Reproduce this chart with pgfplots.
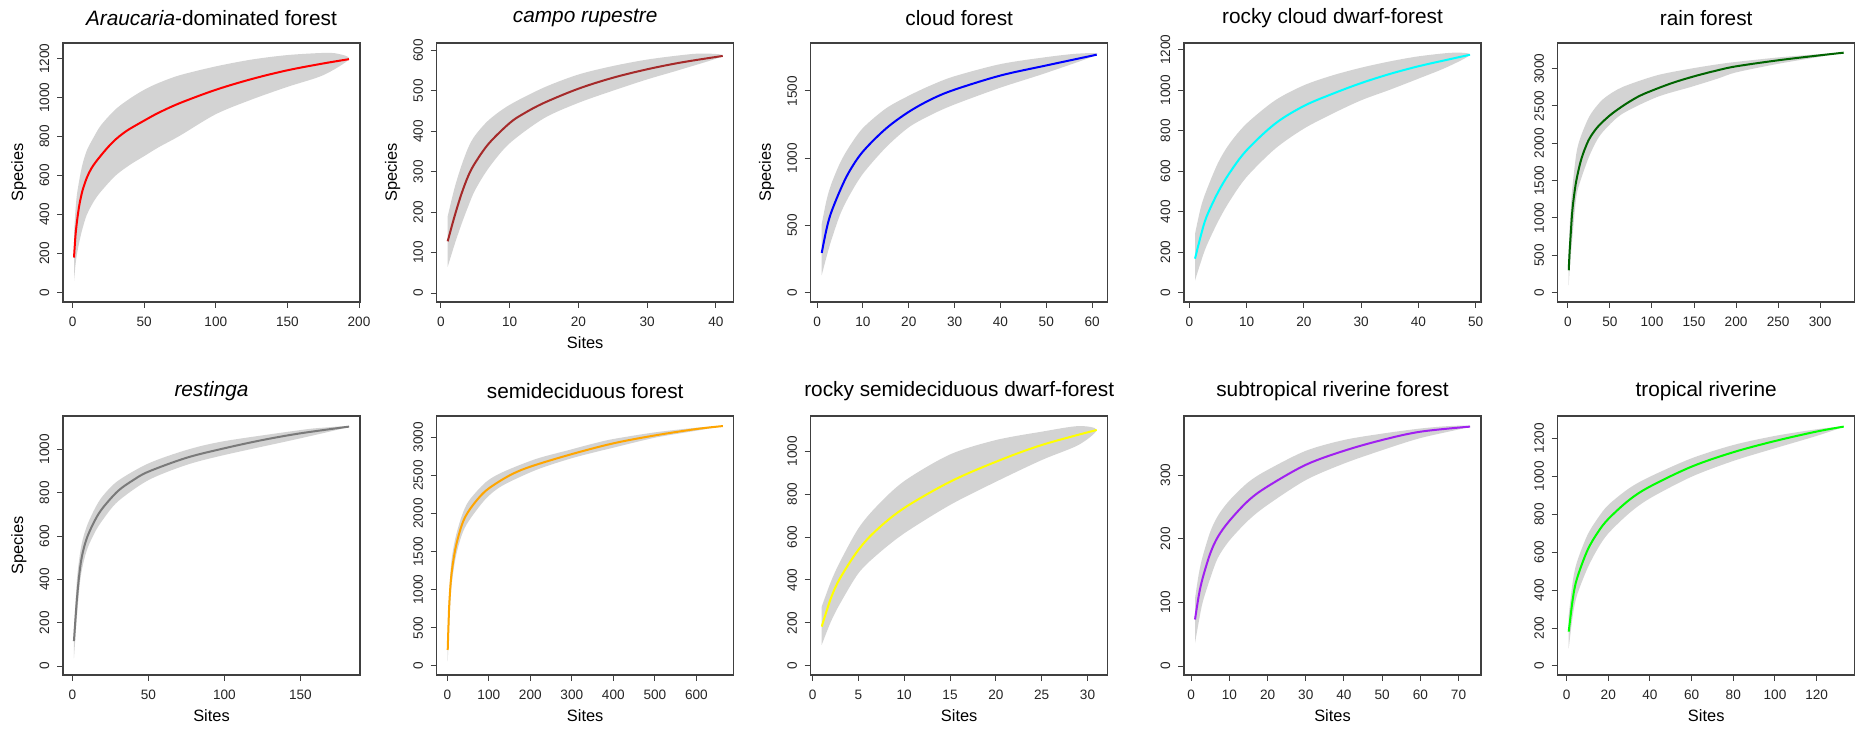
\documentclass[border=0pt]{standalone}
\usepackage{fontspec}
\setmainfont{Liberation Sans}
\usepackage{pgfplots}
\pgfplotsset{compat=1.18}
\definecolor{ciGray}{HTML}{D3D3D3}
\definecolor{rbrown}{HTML}{A52A2A}
\definecolor{rdarkgreen}{HTML}{006400}
\definecolor{rorange}{HTML}{FFA500}
\definecolor{rpurple}{HTML}{A020F0}
\definecolor{rgreen}{HTML}{00FF00}
\definecolor{rcyan}{HTML}{00FFFF}
\definecolor{ryellow}{HTML}{FFFF00}
\definecolor{rgrey}{HTML}{7A7A7A}
\pgfplotsset{
  rplot/.style={
    scale only axis, width=148.5pt, height=129.5pt, anchor=south west,
    axis line style={black!75, line width=0.6pt},
    tick align=outside, xtick pos=bottom, ytick pos=left,
    major tick length=3pt, tick style={black!75, line width=0.5pt},
    ticklabel style={font=\fontsize{6.8}{8}\selectfont, text=black!85},
    yticklabel style={rotate=90, anchor=south},
    xticklabel style={anchor=north},
    xticklabel shift=0.9pt, yticklabel shift=0.3pt,
    /pgf/number format/assume math mode=true,
    /pgf/number format/1000 sep={},
    scaled ticks=false,
    title style={at={([yshift=12.5pt]axis description cs:0.5,1)}, anchor=center, yshift=-6pt, font=\fontsize{10.4}{12}\selectfont},
    xlabel style={at={([yshift=-20.5pt]axis description cs:0.5,0)}, anchor=center, font=\fontsize{8.2}{10}\selectfont},
    ylabel style={at={([xshift=-22pt]axis description cs:0,0.5)}, anchor=center, font=\fontsize{8.2}{10}\selectfont},
  },
  band/.style={draw=none, fill=ciGray, smooth, tension=0.5, forget plot},
  curve/.style={line width=1pt, smooth, tension=0.55, forget plot},
}
\begin{document}
\begin{tikzpicture}
\path[use as bounding box] (0,0) rectangle (928pt,365.5pt);
% ---------- Row 1 ----------
\begin{axis}[rplot, at={(31.5pt,214.5pt)},
  title={\textit{Araucaria}-dominated forest}, ylabel={Species},
  xmin=-6.68, xmax=200.68, ymin=-48, ymax=1280,
  xtick={0,50,100,150,200}, ytick={0,200,400,600,800,1000,1200}]
\addplot[band] coordinates {(1,300)(2,420)(3,500)(5,590)(7,660)(10,730)(15,800)(20,860)(30,940)(40,995)(50,1040)(60,1075)(75,1115)(100,1160)(125,1195)(150,1218)(175,1229)(185,1225)(193,1197)(175,1115)(150,1055)(125,990)(100,915)(75,805)(60,745)(50,700)(40,655)(30,600)(20,520)(15,470)(10,400)(7,330)(5,270)(3,195)(2,140)(1,60)};
\addplot[curve, red] coordinates {(1,180)(2,290)(3,360)(4,415)(5,460)(7,525)(10,590)(13,635)(16,668)(20,705)(25,748)(30,785)(35,815)(40,840)(50,882)(60,922)(75,972)(100,1040)(125,1095)(150,1140)(175,1175)(193,1197)};
\end{axis}
\begin{axis}[rplot, at={(218.35pt,214.5pt)},
  title={\textit{campo rupestre}}, ylabel={Species}, xlabel={Sites},
  xmin=-0.6, xmax=42.6, ymin=-22, ymax=618,
  xtick={0,10,20,30,40}, ytick={0,100,200,300,400,500,600}]
\addplot[band] coordinates {(1,190)(2,260)(3,315)(4,360)(5,390)(7,428)(10,465)(15,508)(20,540)(25,561)(30,577)(35,588)(38,592)(41,586)(35,553)(30,528)(25,500)(20,470)(15,432)(10,370)(7,310)(5,255)(4,215)(3,170)(2,120)(1,65)};
\addplot[curve, rbrown] coordinates {(1,128)(2,190)(3,245)(4,290)(5,322)(7,370)(10,420)(12,443)(15,470)(20,505)(25,532)(30,553)(35,570)(41,586)};
\end{axis}
\begin{axis}[rplot, at={(405.35pt,214.5pt)},
  title={cloud forest}, ylabel={Species},
  xmin=-1.4, xmax=63.4, ymin=-69, ymax=1857,
  xtick={0,10,20,30,40,50,60}, ytick={0,500,1000,1500}]
\addplot[band] coordinates {(1,510)(2,680)(3,800)(5,965)(7,1085)(10,1225)(15,1370)(20,1465)(25,1545)(30,1610)(40,1700)(50,1752)(57,1778)(61,1770)(50,1635)(40,1525)(30,1400)(25,1325)(20,1230)(15,1080)(10,885)(7,720)(5,580)(3,380)(2,260)(1,130)};
\addplot[curve, blue] coordinates {(1,295)(2,465)(3,590)(5,760)(7,900)(10,1050)(15,1220)(20,1345)(25,1440)(30,1510)(40,1615)(50,1690)(61,1770)};
\end{axis}
\begin{axis}[rplot, at={(592pt,214.5pt)},
  title={rocky cloud dwarf-forest},
  xmin=-0.92, xmax=50.92, ymin=-46, ymax=1233,
  xtick={0,10,20,30,40,50}, ytick={0,200,400,600,800,1000,1200}]
\addplot[band] coordinates {(1,290)(2,420)(3,505)(5,640)(7,735)(10,835)(15,950)(20,1024)(25,1073)(30,1111)(35,1142)(40,1167)(46,1185)(49,1175)(45,1114)(40,1057)(35,1002)(30,950)(25,884)(20,810)(15,711)(10,571)(7,450)(5,350)(3,230)(2,150)(1,60)};
\addplot[curve, rcyan] coordinates {(1,168)(2,280)(3,374)(5,495)(7,590)(10,703)(15,835)(20,922)(25,982)(30,1035)(35,1080)(40,1118)(45,1150)(49,1175)};
\end{axis}
\begin{axis}[rplot, at={(778.85pt,214.5pt)},
  title={rain forest},
  xmin=-12.1, xmax=341.1, ymin=-125, ymax=3344,
  xtick={0,50,100,150,200,250,300}, ytick={0,500,1000,1500,2000,2500,3000}]
\addplot[band] coordinates {(1,500)(2,850)(3,1050)(5,1370)(10,1860)(15,2080)(25,2350)(35,2510)(45,2620)(65,2754)(106,2911)(146,3000)(178,3058)(200,3090)(250,3150)(300,3195)(328,3214)(300,3160)(250,3065)(200,2950)(178,2866)(146,2754)(106,2620)(65,2397)(45,2196)(35,2050)(25,1817)(15,1500)(10,1280)(5,700)(3,420)(2,300)(1,100)};
\addplot[curve, rdarkgreen] coordinates {(1,300)(2,540)(3,720)(5,1060)(7,1270)(10,1500)(15,1750)(20,1920)(25,2050)(30,2140)(37,2240)(50,2375)(62,2475)(75,2570)(90,2660)(122,2800)(150,2897)(178,2978)(200,3031)(250,3112)(300,3179)(328,3214)};
\end{axis}
% ---------- Row 2 ----------
\begin{axis}[rplot, at={(31.5pt,28pt)},
  title={\textit{restinga}}, ylabel={Species}, xlabel={Sites},
  xmin=-6.2, xmax=189.2, ymin=-41.5, ymax=1154,
  xtick={0,50,100,150}, ytick={0,200,400,600,800,1000}]
\addplot[band] coordinates {(1,174)(3,400)(5,520)(7,590)(10,655)(15,730)(20,785)(30,855)(50,935)(75,997)(100,1038)(150,1089)(165,1100)(182,1105)(150,1051)(100,974)(75,928)(50,858)(30,760)(20,675)(15,620)(10,545)(7,470)(5,389)(3,230)(1,35)};
\addplot[curve, rgrey] coordinates {(1,115)(3,312)(5,451)(7,530)(10,600)(15,675)(20,730)(30,808)(40,858)(50,897)(75,961)(100,1005)(125,1043)(150,1074)(182,1105)};
\end{axis}
\begin{axis}[rplot, at={(218.35pt,28pt)},
  title={semideciduous forest}, xlabel={Sites},
  xmin=-25.5, xmax=690, ymin=-118, ymax=3280,
  xtick={0,100,200,300,400,500,600}, ytick={0,500,1000,1500,2000,2500,3000}]
\addplot[band] coordinates {(1,490)(3,800)(5,1000)(10,1380)(20,1690)(35,1970)(52,2167)(92,2408)(132,2540)(213,2715)(293,2833)(353,2920)(400,2978)(500,3065)(600,3126)(664,3148)(600,3087)(500,2995)(400,2864)(353,2802)(293,2715)(213,2570)(132,2364)(92,2189)(52,1905)(35,1720)(20,1420)(10,1030)(5,560)(3,300)(1,60)};
\addplot[curve, rorange] coordinates {(1,210)(3,550)(5,830)(10,1200)(20,1550)(35,1850)(50,2020)(75,2200)(100,2330)(150,2500)(200,2615)(300,2780)(400,2921)(500,3025)(600,3109)(664,3148)};
\end{axis}
\begin{axis}[rplot, at={(405.35pt,28pt)},
  title={rocky semideciduous dwarf-forest}, xlabel={Sites},
  xmin=-0.2, xmax=32.2, ymin=-42, ymax=1163,
  xtick={0,5,10,15,20,25,30}, ytick={0,200,400,600,800,1000}]
\addplot[band] coordinates {(1,276)(2,392)(3,485)(5,640)(7,743)(10,860)(15,984)(20,1051)(25,1090)(29,1116)(31,1098)(29,1028)(25,958)(20,857)(15,749)(10,617)(7,516)(5,431)(3,290)(2,206)(1,98)};
\addplot[curve, ryellow] coordinates {(1,183)(2,315)(3,408)(5,540)(7,633)(10,735)(15,857)(20,950)(25,1028)(31,1098)};
\end{axis}
\begin{axis}[rplot, at={(592pt,28pt)},
  title={subtropical riverine forest}, xlabel={Sites},
  xmin=-1.88, xmax=75.88, ymin=-14.1, ymax=392.7,
  xtick={0,10,20,30,40,50,60,70}, ytick={0,100,200,300}]
\addplot[band] coordinates {(1,106)(2,145)(3,172)(5,211)(7,236)(10,260)(15,289)(20,308)(30,338)(40,355)(50,365)(60,373)(68,377)(73,376)(60,358)(50,339)(40,318)(30,292)(20,253)(15,229)(10,197)(7,170)(5,138)(3,100)(2,70)(1,36)};
\addplot[curve, rpurple] coordinates {(1,73)(2,111)(3,138)(5,177)(7,203)(10,228)(15,260)(20,282)(30,316)(40,338)(50,355)(60,368)(73,376)};
\end{axis}
\begin{axis}[rplot, at={(778.85pt,28pt)},
  title={tropical riverine}, xlabel={Sites},
  xmin=-4.28, xmax=138.28, ymin=-47.5, ymax=1318,
  xtick={0,20,40,60,80,100,120}, ytick={0,200,400,600,800,1000,1200}]
\addplot[band] coordinates {(1,269)(3,450)(5,550)(10,691)(15,780)(20,849)(30,937)(40,998)(60,1095)(80,1165)(100,1213)(120,1248)(128,1258)(133,1262)(120,1213)(100,1148)(80,1081)(60,998)(40,884)(30,805)(20,699)(15,620)(10,515)(5,374)(3,270)(1,93)};
\addplot[curve, rgreen] coordinates {(1,181)(3,357)(5,462)(10,610)(15,705)(20,775)(30,875)(40,946)(60,1051)(80,1127)(100,1186)(120,1236)(133,1262)};
\end{axis}
\end{tikzpicture}
\end{document}
